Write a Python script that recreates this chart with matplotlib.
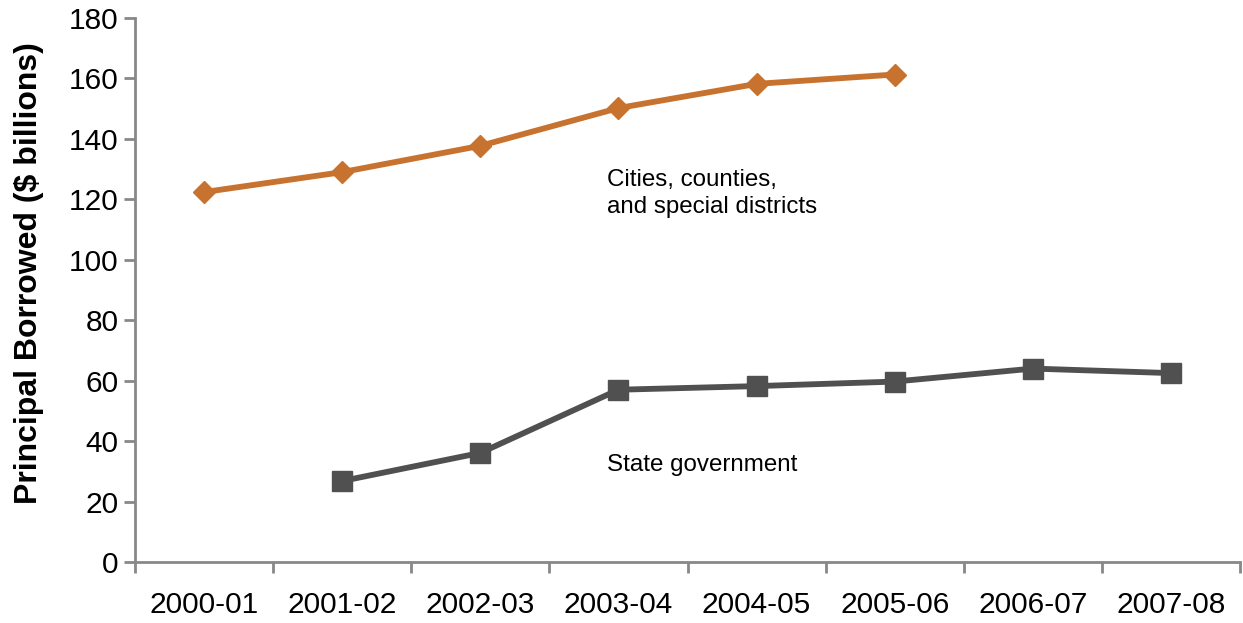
import matplotlib
matplotlib.use("Agg")
import matplotlib.pyplot as plt
import numpy as np

categories = ["2000-01", "2001-02", "2002-03", "2003-04", "2004-05", "2005-06", "2006-07", "2007-08"]
local_vals = [122.4, 129.0, 137.7, 150.2, 158.2, 161.3, None, None]
state_vals = [None, 26.8, 36.1, 57.0, 58.2, 59.7, 64.0, 62.5]

plt.rcParams['font.family'] = ['Liberation Sans', 'DejaVu Sans']

fig = plt.figure(figsize=(12.43, 6.23), dpi=100)
ax = fig.add_axes([135/1243, 1-562/623, (1240-135)/1243, (562-18)/623])

x = np.arange(len(categories))
lv = np.array([np.nan if v is None else v for v in local_vals], dtype=float)
sv = np.array([np.nan if v is None else v for v in state_vals], dtype=float)

ax.plot(x, lv, color='#C8722F', lw=4.2, marker='D', ms=11.5, zorder=3)
ax.plot(x, sv, color='#505050', lw=4.2, marker='s', ms=14.5, zorder=3)

ax.set_xlim(-0.5, len(categories)-0.5)
ax.set_ylim(0, 180)
ax.set_yticks(np.arange(0, 181, 20))
ax.set_xticks(x)
ax.set_xticklabels(categories)
ax.set_xticks(np.arange(-0.5, len(categories), 1), minor=True)
ax.tick_params(axis='x', which='major', length=0, labelsize=21.5, pad=21)
ax.tick_params(axis='x', which='minor', length=8, width=2, color='#888888', direction='out')
ax.tick_params(axis='y', length=8, width=2, color='#888888', labelsize=21.5, pad=4)

for s in ['top', 'right']:
    ax.spines[s].set_visible(False)
for s in ['left', 'bottom']:
    ax.spines[s].set_color('#888888')
    ax.spines[s].set_linewidth(2)

fig.text(29/1243, 1-273.5/623, "Principal Borrowed ($ billions)", fontsize=23,
         fontweight='bold', rotation=90, ha='center', va='center')

ax.text(2.918, 124.4, "Cities, counties,", fontsize=17.4, ha='left', va='baseline')
ax.text(2.918, 115.5, "and special districts", fontsize=17.4, ha='left', va='baseline')
ax.text(2.918, 30.1, "State government", fontsize=17.4, ha='left', va='baseline')

fig.savefig("out.png", dpi=100)
